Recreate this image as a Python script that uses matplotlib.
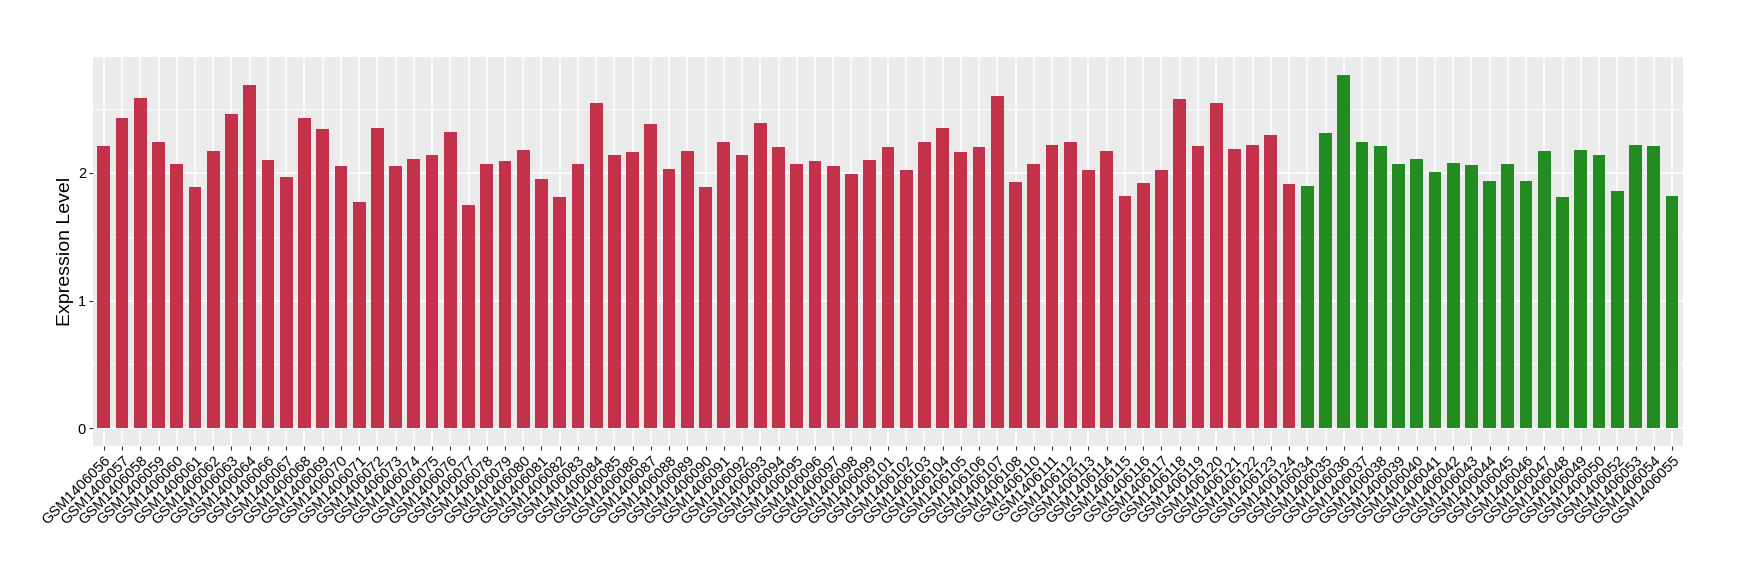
import matplotlib
matplotlib.use("Agg")
import matplotlib.pyplot as plt
from matplotlib.ticker import MultipleLocator

red_samples = ["GSM1406056", "GSM1406057", "GSM1406058", "GSM1406059", "GSM1406060",
               "GSM1406061", "GSM1406062", "GSM1406063", "GSM1406064", "GSM1406066",
               "GSM1406067", "GSM1406068", "GSM1406069", "GSM1406070", "GSM1406071",
               "GSM1406072", "GSM1406073", "GSM1406074", "GSM1406075", "GSM1406076",
               "GSM1406077", "GSM1406078", "GSM1406079", "GSM1406080", "GSM1406081",
               "GSM1406082", "GSM1406083", "GSM1406084", "GSM1406085", "GSM1406086",
               "GSM1406087", "GSM1406088", "GSM1406089", "GSM1406090", "GSM1406091",
               "GSM1406092", "GSM1406093", "GSM1406094", "GSM1406095", "GSM1406096",
               "GSM1406097", "GSM1406098", "GSM1406099", "GSM1406101", "GSM1406102",
               "GSM1406103", "GSM1406104", "GSM1406105", "GSM1406106", "GSM1406107",
               "GSM1406108", "GSM1406110", "GSM1406111", "GSM1406112", "GSM1406113",
               "GSM1406114", "GSM1406115", "GSM1406116", "GSM1406117", "GSM1406118",
               "GSM1406119", "GSM1406120", "GSM1406121", "GSM1406122", "GSM1406123",
               "GSM1406124"]
red_values = [2.21, 2.43, 2.59, 2.24, 2.07, 1.89, 2.17, 2.46, 2.69, 2.10,
              1.97, 2.43, 2.34, 2.05, 1.77, 2.35, 2.05, 2.11, 2.14, 2.32,
              1.75, 2.07, 2.09, 2.18, 1.95, 1.81, 2.07, 2.55, 2.14, 2.16,
              2.38, 2.03, 2.17, 1.89, 2.24, 2.14, 2.39, 2.20, 2.07, 2.09,
              2.05, 1.99, 2.10, 2.20, 2.02, 2.24, 2.35, 2.16, 2.20, 2.60,
              1.93, 2.07, 2.22, 2.24, 2.02, 2.17, 1.82, 1.92, 2.02, 2.58,
              2.21, 2.55, 2.19, 2.22, 2.30, 1.91]

green_samples = ["GSM1406034", "GSM1406035", "GSM1406036", "GSM1406037", "GSM1406038",
                 "GSM1406039", "GSM1406040", "GSM1406041", "GSM1406042", "GSM1406043",
                 "GSM1406044", "GSM1406045", "GSM1406046", "GSM1406047", "GSM1406048",
                 "GSM1406049", "GSM1406050", "GSM1406052", "GSM1406053", "GSM1406054",
                 "GSM1406055"]
green_values = [1.90, 2.31, 2.77, 2.24, 2.21, 2.07, 2.11, 2.01, 2.08, 2.06,
                1.94, 2.07, 1.94, 2.17, 1.81, 2.18, 2.14, 1.86, 2.22, 2.21,
                1.82]

samples = red_samples + green_samples
values = red_values + green_values
colors = ["#C3314A"] * len(red_samples) + ["#228B22"] * len(green_samples)

fig = plt.figure(figsize=(17.4, 5.8), dpi=100)
ax = fig.add_axes([0.0534, 0.231, 0.9138, 0.671])

x = list(range(len(samples)))
ax.bar(x, values, width=0.7, color=colors, zorder=3)

ax.set_facecolor("#EBEBEB")
for s in ax.spines.values():
    s.set_visible(False)

top = max(values)
ax.set_ylim(-0.05 * top, 1.05 * top)
ax.set_xlim(-0.6, len(samples) - 0.4)

ax.yaxis.set_major_locator(MultipleLocator(1))
ax.yaxis.set_minor_locator(MultipleLocator(0.5))
ax.grid(which="major", color="white", linewidth=1.1, zorder=0)
ax.grid(which="minor", axis="y", color="white", linewidth=0.55, zorder=0)
ax.tick_params(axis="y", which="minor", length=0)

ax.set_xticks(x)
ax.set_xticklabels(samples, rotation=45, ha="right", rotation_mode="anchor",
                   fontsize=10.5, family="Liberation Sans", color="black")
for lab in ax.get_yticklabels():
    lab.set_family("Liberation Sans")
ax.tick_params(axis="both", which="major", length=3, width=0.8, color="#333333",
               pad=2, labelsize=10.5, labelcolor="black")

ax.set_ylabel("Expression Level", fontsize=14, family="Liberation Sans", labelpad=3)

plt.savefig("out.png", dpi=100)
